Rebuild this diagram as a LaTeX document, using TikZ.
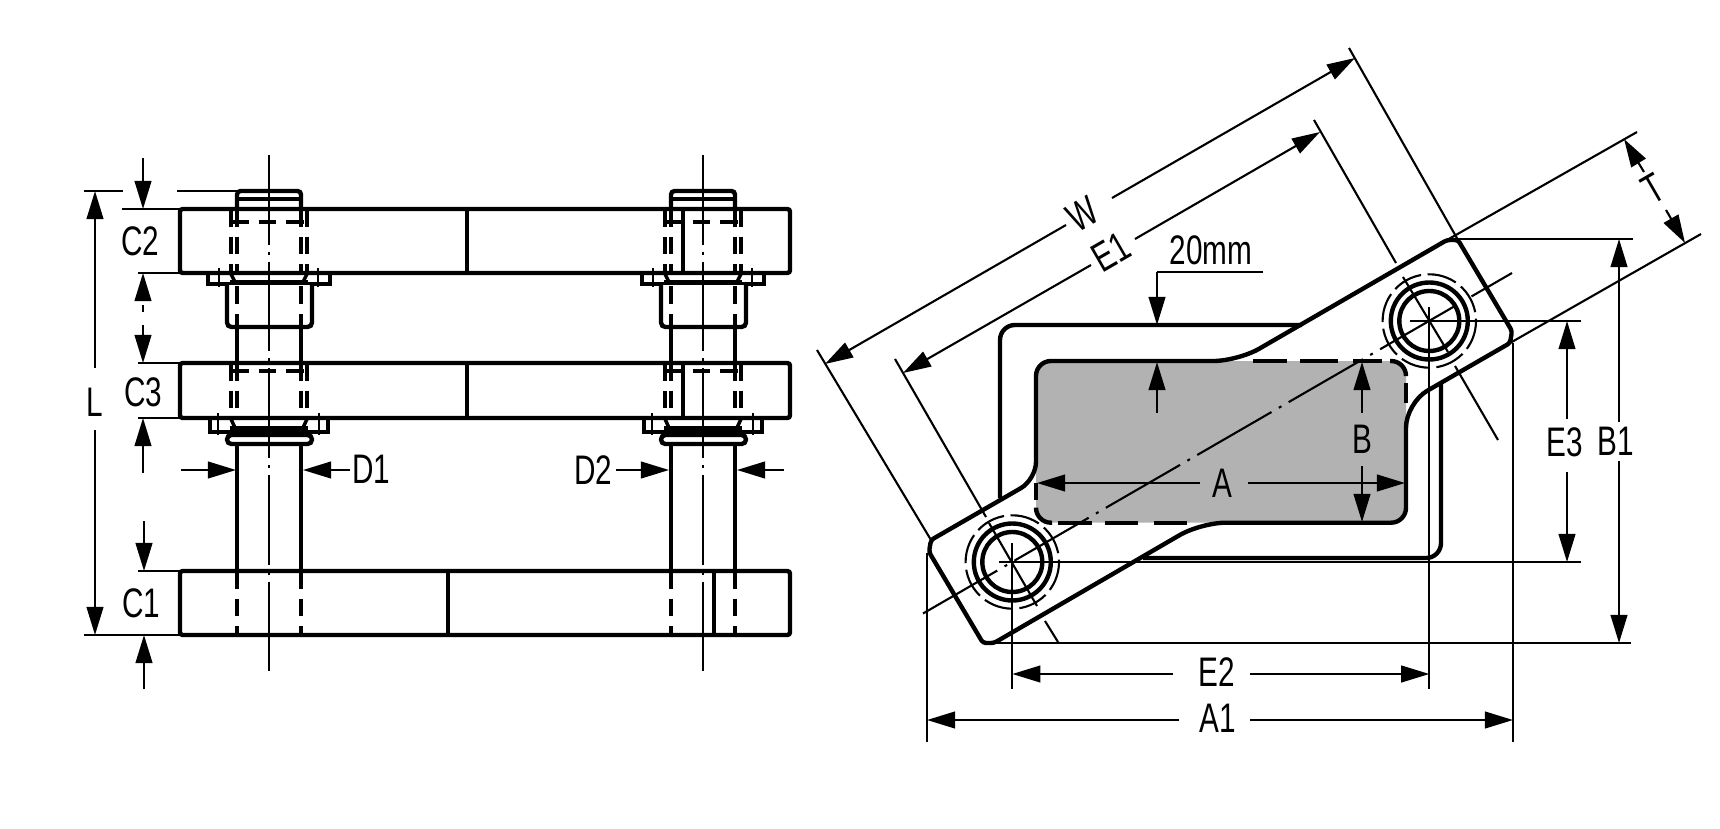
\documentclass[tikz,border=0pt]{standalone}
\usepackage{fontspec}
\setmainfont[FakeStretch=0.72]{Liberation Sans}
\usetikzlibrary{arrows.meta}
\definecolor{panelgrey}{HTML}{B2B2B2}
\tikzset{
    part/.style={line width=2.5pt},
    midline/.style={line width=2pt},
    hair/.style={line width=1.2pt},
    hidden/.style={line width=2pt, dash pattern=on 10pt off 5.7pt},
    axis/.style={line width=1.2pt, dash pattern=on 51pt off 4pt on 1.7pt off 4pt},
    slant/.style={line width=1.2pt, dash pattern=on 48.8pt off 4.8pt on 1.7pt off 4.8pt},
    ringline/.style={line width=1.2pt, dash pattern=on 17pt off 3.7pt},
    dimline/.style={line width=1.2pt, -{Triangle[length=16pt,width=9.5pt]}},
    lbl/.style={inner sep=0pt, font=\fontsize{23.5}{26}\selectfont}
}
\begin{document}
\begin{tikzpicture}[x=0.02cm, y=-0.02cm]
\useasboundingbox (0,0) rectangle (1720,828);
% grey panel under everything
\fill[panelgrey, rounded corners=8.5pt] (1036,361) rectangle (1406,522.7);
% left view: plates
\foreach \ya/\yb/\xd in {209/273/467, 363/418/467, 571/635/448} {
    \draw[part, rounded corners=1.5pt] (180,\ya) rectangle (790,\yb);
    \draw[part] (\xd,\ya) -- (\xd,\yb);
}
\draw[part] (714,571) -- (714,635);
\draw[part] (683,209) -- (683,273);
\draw[part] (683,363) -- (683,418);
% left view: the two columns
\foreach \dx in {0,434} {
\begin{scope}[shift={(\dx,0)}]
    \draw[part, rounded corners=2pt] (237,209) -- (237,191) -- (301,191) -- (301,209);
    \draw[part] (237,199) -- (301,199);
    \foreach \xh in {231,237,301,307} {
        \draw[hidden] (\xh,209) -- (\xh,273);
        \draw[hidden] (\xh,363) -- (\xh,418);
    }
    \draw[hidden] (231,222) -- (307,222);
    \draw[hidden] (231,371) -- (307,371);
    % upper collar
    \draw[midline] (208,273) rectangle (330,284);
    \draw[hair] (219,268) -- (219,287);
    \draw[hair] (318,268) -- (318,287);
    \draw[midline] (231,274) -- (236,284);
    \draw[midline] (307,274) -- (302,284);
    \draw[midline] (230,282) -- (308,282);
    \draw[part, fill=white, rounded corners=2.5pt] (227,285) -- (227,327) -- (312,327) -- (312,285);
    \draw[hidden] (237,286) -- (237,327);
    \draw[hidden] (301,286) -- (301,327);
    \draw[part] (237,327) -- (237,363);
    \draw[part] (301,327) -- (301,363);
    % lower collar
    \draw[midline] (210,418) rectangle (328,432);
    \draw[hair] (218,413) -- (218,435);
    \draw[hair] (319,413) -- (319,435);
    \draw[midline] (231,419) -- (236,430);
    \draw[midline] (307,419) -- (302,430);
    \draw[midline] (230,428) -- (308,428);
    \draw[part, fill=white, rounded corners=2.5pt] (227,435) rectangle (312,444);
    \draw[part] (237,444) -- (237,571);
    \draw[part] (301,444) -- (301,571);
    \draw[hidden] (237,571) -- (237,635);
    \draw[hidden] (301,571) -- (301,635);
    \draw[axis] (269,155) -- (269,671);
\end{scope}
}
% right view: outer frame, bar, holes
\draw[part, rounded corners=8.5pt] (1000,498) -- (1000,325) -- (1302,325);
\draw[part, rounded corners=8.5pt] (1143,558) -- (1441,558) -- (1441,384);
\draw[part] (1036,420) [rounded corners=8.5pt] -- (1036,361) [rounded corners=14pt] -- (1238,361)
    [rounded corners=1.7pt] -- (1447,240) -- (1458,240) -- (1512,331) -- (1510,343)
    [rounded corners=14pt] -- (1406,403) [rounded corners=8.5pt] -- (1406,522.7) [rounded corners=14pt] -- (1201,522.7)
    [rounded corners=1.7pt] -- (994,643) -- (983,643) -- (929,552) -- (931,540)
    [rounded corners=10pt] -- (1036,479.4) -- cycle;
% hidden edges of the bar on the panel
\draw[part] (1036,483) -- (1036,500);
\draw[part, rounded corners=8.5pt] (1036,508) -- (1036,522.7) -- (1052,522.7);
\foreach \xa/\xb in {1058/1092, 1105/1138, 1154/1187} {
    \draw[part] (\xa,522.7) -- (\xb,522.7);
}
\foreach \xa/\xb in {1253/1287, 1300/1338, 1353/1382} {
    \draw[part] (\xa,361) -- (\xb,361);
}
\draw[part, rounded corners=8.5pt] (1390,361) -- (1406,361) -- (1406,376);
\draw[part] (1406,383) -- (1406,403);
\coordinate (holeA) at (1012.3,562);
\coordinate (holeB) at (1429.3,321);
\foreach \hole in {holeA,holeB} {
    \draw[part] (\hole) circle[radius=30];
    \draw[part] (\hole) circle[radius=38.5];
    \draw[ringline] (\hole) circle[radius=46.7];
}
% centre lines of the bar
\draw[slant] (923,613.5) -- (1512,273);
\draw[hair] (895,359) -- (986,517);
\draw[hair] (989,523) -- (1037,606);
\draw[hair] (1045,621) -- (1058,642);
\draw[hair] (1314,120) -- (1396,263);
\draw[hair] (1403,277) -- (1448,352);
\draw[hair] (1455,366) -- (1498,440);
% extension lines, left view
\draw[hair] (84,191) -- (123,191);
\draw[hair] (177,191) -- (237,191);
\draw[hair] (122,209) -- (180,209);
\draw[hair] (138,273) -- (180,273);
\draw[hair] (138,363) -- (180,363);
\draw[hair] (138,418) -- (180,418);
\draw[hair] (138,571) -- (180,571);
\draw[hair] (84,635) -- (180,635);
% extension lines, right view
\draw[hair] (1349,48) -- (1458,240);
\draw[hair] (817,350) -- (931,540);
\draw[hair] (1447,240) -- (1637,132);
\draw[hair] (1510,343) -- (1701,234);
\draw[hair] (1458,239) -- (1633,239);
\draw[hair] (983,643) -- (1631,643);
\draw[hair] (999,562) -- (1581,562);
\draw[hair] (1410,321) -- (1581,321);
\draw[hair] (1012.3,543) -- (1012.3,689);
\draw[hair] (1429.3,307) -- (1429.3,689);
\draw[hair] (927,553) -- (927,742);
\draw[hair] (1513,343) -- (1513,742);
% labels, left view
\node[lbl] (labelL) at (95,402) {L};
\node[lbl] (labelCtwo) at (140,241) {C2};
\node[lbl] (labelCthree) at (143,392) {C3};
\node[lbl] (labelCone) at (141,603) {C1};
\node[lbl] (labelDone) at (371,469) {D1};
\node[lbl] (labelDtwo) at (593,470) {D2};
% labels, right view
\node[lbl, rotate=30] (labelW) at (1083,214) {W};
\node[lbl, rotate=30] (labelEone) at (1111,252) {E1};
\node[lbl, rotate=30] (labelT) at (1653,189) {T};
\node[lbl] (labelTwenty) at (1211,250) {20mm};
\node[lbl] (labelA) at (1222,483) {A};
\node[lbl] (labelB) at (1362,439) {B};
\node[lbl] (labelEtwo) at (1217,672) {E2};
\node[lbl] (labelAone) at (1218,718) {A1};
\node[lbl] (labelEthree) at (1565,442) {E3};
\node[lbl] (labelBone) at (1616,441) {B1};
% dimension arrows, left view
\draw[dimline] (95,368) -- (95,191);
\draw[dimline] (95,430) -- (95,635);
\draw[dimline] (143,158) -- (143,209);
\draw[dimline] (143,300) -- (143,273);
\draw[hair] (143,305) -- (143,312);
\draw[dimline] (143,325) -- (143,363);
\draw[dimline] (143,473) -- (143,418);
\draw[dimline] (144,521) -- (144,571);
\draw[dimline] (144,689) -- (144,635);
\draw[dimline] (181,470) -- (236,470);
\draw[dimline] (350,470) -- (303,470);
\draw[dimline] (616,470) -- (669,470);
\draw[dimline] (784,470) -- (737,470);
% dimension arrows, right view
\draw[dimline] (1112,198) -- (1355,58);
\draw[dimline] (1066,225) -- (825,364);
\draw[dimline] (1135,239) -- (1320,132);
\draw[dimline] (1091,265) -- (903,373);
\draw[dimline] (1644,172) -- (1624,139);
\draw[dimline] (1666,210) -- (1685,243);
\draw[hair] (1263,272) -- (1157,272);
\draw[dimline] (1157,272) -- (1157,325);
\draw[dimline] (1157,413) -- (1157,362);
\draw[dimline] (1362,413) -- (1362,362);
\draw[dimline] (1362,466) -- (1362,522);
\draw[dimline] (1200,483) -- (1037,483);
\draw[dimline] (1248,483) -- (1405,483);
\draw[dimline] (1173,674) -- (1012.3,674);
\draw[dimline] (1250,674) -- (1429.3,674);
\draw[dimline] (1179,720) -- (927,720);
\draw[dimline] (1250,720) -- (1513,720);
\draw[dimline] (1567,472) -- (1567,562);
\draw[dimline] (1567,419) -- (1567,321);
\draw[dimline] (1619,422) -- (1619,239);
\draw[dimline] (1619,461) -- (1619,643);
\end{tikzpicture}
\end{document}
